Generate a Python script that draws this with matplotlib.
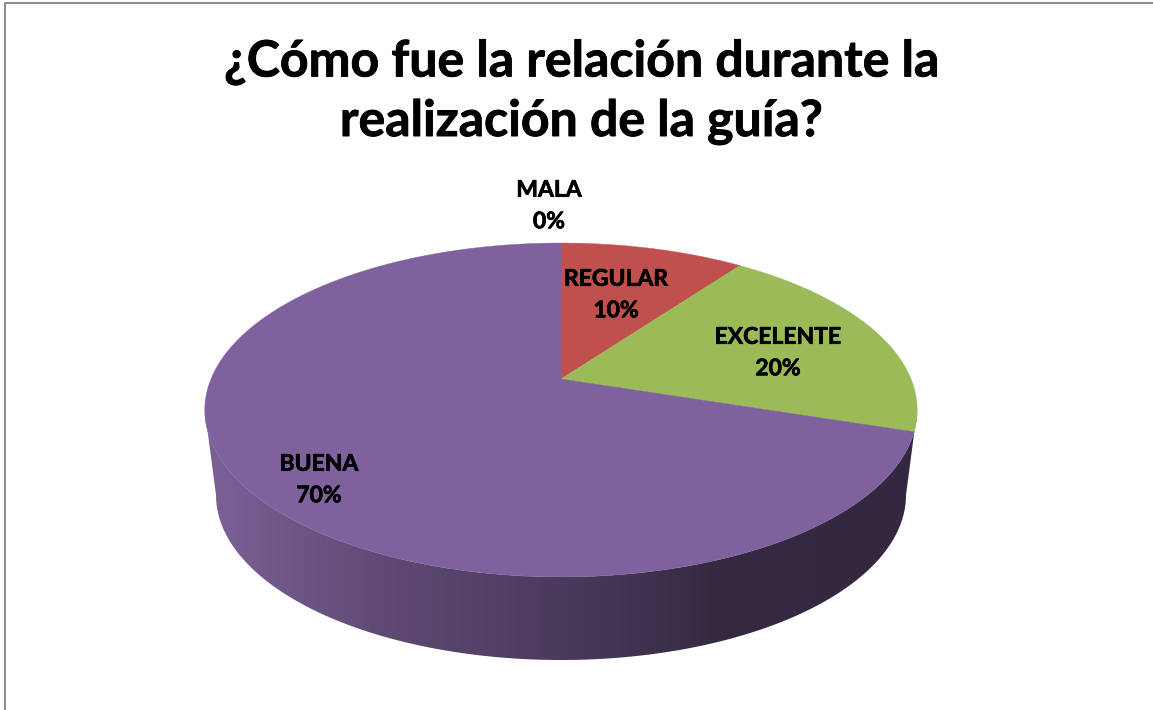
import numpy as np
import matplotlib
matplotlib.use('Agg')
from matplotlib import pyplot as plt
from matplotlib.colors import LinearSegmentedColormap
from matplotlib.patches import Polygon
import matplotlib.patheffects as pe

title = '¿Cómo fue la relación durante la\nrealización de la guía?'
categories = ['MALA', 'REGULAR', 'EXCELENTE', 'BUENA']
values = [0, 10, 20, 70]
colors = ['#4F81BD', '#C0504D', '#9BBB59', '#7F619D']
label_pos = [(549, 206), (616, 295), (778, 353), (319, 480)]

# pie geometry in pixels, the top face is a circle seen in perspective
cx, cy = 561, 379
k, a, b = 0.1856, 350, 161.2
bottom_cy, bottom_rx, bottom_ry = 495, 345, 165


def top_face(t):
    d = 1 + k * np.cos(t)
    return cx + a * np.sin(t) / d, cy - b * np.cos(t) / d


plt.rcParams['font.family'] = ['Lato', 'DejaVu Sans']
fig = plt.figure(figsize=(11.53, 7.10), dpi=100)
ax = fig.add_axes([0, 0, 1, 1])

# side wall with its horizontal gradient
t0 = np.arccos(-k)
t = np.linspace(t0, 2 * np.pi - t0, 200)
x1, y1 = top_face(t)
u = np.linspace(0, np.pi, 200)
x2 = cx + bottom_rx * np.cos(u)
y2 = bottom_cy + bottom_ry * np.sin(u)
wall = Polygon(np.c_[np.r_[x1[::-1], x2], np.r_[y1[::-1], y2]], closed=True, fc='none', ec='none')
ax.add_patch(wall)
cmap = LinearSegmentedColormap.from_list('wall', [(0, '#7C6198'), (0.25, '#5F4A74'), (0.5, '#4A3A5C'),
                                                  (0.72, '#352A42'), (1, '#33283F')])
im = ax.imshow(np.linspace(0, 1, 256)[None, :], extent=(205, 917, 660, 400), cmap=cmap, aspect='auto')
im.set_clip_path(wall)

# top face
start = 0
for val, col in zip(values, colors):
    if val > 0:
        t = np.radians(np.linspace(start, start + val * 3.6, 200))
        x, y = top_face(t)
        ax.fill(np.r_[cx, x], np.r_[cy, y], color=col, lw=0.3)
    start += val * 3.6

for cat, val, pos in zip(categories, values, label_pos):
    ax.text(pos[0], pos[1], '%s\n%d%%' % (cat, val), ha='center', va='center', fontsize=16.5,
            fontweight='bold', color='black', linespacing=1.62,
            path_effects=[pe.withStroke(linewidth=0.5, foreground='black')])

ax.text(581, 92, title, ha='center', va='center', fontsize=36, fontweight='bold', color='black',
        linespacing=1.38, path_effects=[pe.withStroke(linewidth=0.6, foreground='black')])

# chart frame, only the left and top edges are in the picture
ax.plot([5, 5, 1153], [710, 3, 3], color='#8C8C8C', lw=1.5)

ax.set_xlim(0, 1153)
ax.set_ylim(710, 0)
ax.axis('off')
fig.savefig('out.png', dpi=100)
